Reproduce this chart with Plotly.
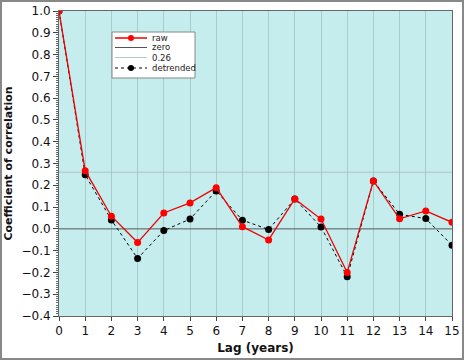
import plotly.graph_objects as go

lags = list(range(16))
raw = [1.0, 0.267, 0.058, -0.063, 0.073, 0.119, 0.189, 0.01, -0.051, 0.137, 0.045, -0.20, 0.22, 0.046, 0.082, 0.03]
detrended = [1.0, 0.248, 0.041, -0.136, -0.008, 0.045, 0.174, 0.04, -0.003, 0.137, 0.009, -0.22, 0.22, 0.067, 0.047, -0.075]
zero_level = 0.0
sig_level = 0.26
x_ticks = list(range(16))
y_ticks = [round(-0.4 + 0.1 * i, 1) for i in range(15)]

W, H = 464, 360
ML, MR, MT, MB = 59, 12, 11, 44
PW, PH = W - ML - MR, H - MT - MB


def px(x):
    return (x - ML) / PW


def py(y):
    return 1 - (y - MT) / PH


RED = "#ee0000"
fig = go.Figure()
fig.add_trace(go.Scatter(x=[0, 15], y=[zero_level, zero_level], mode="lines", name="zero",
                         line=dict(color="#555555", width=1)))
fig.add_trace(go.Scatter(x=[0, 15], y=[sig_level, sig_level], mode="lines", name="0.26",
                         line=dict(color="#a9c4c4", width=1)))
fig.add_trace(go.Scatter(x=lags, y=detrended, mode="lines+markers", name="detrended",
                         line=dict(color="#000000", width=1, dash="dot"),
                         marker=dict(color="#000000", size=7)))
fig.add_trace(go.Scatter(x=lags, y=raw, mode="lines+markers", name="raw",
                         line=dict(color=RED, width=1.3),
                         marker=dict(color="#ff0000", size=7)))

fig.update_layout(
    width=W, height=H,
    margin=dict(l=ML, r=MR, t=MT, b=MB, autoexpand=False),
    paper_bgcolor="white",
    plot_bgcolor="#c5eded",
    font=dict(family="DejaVu Sans", size=12, color="#111111"),
    showlegend=False,
    xaxis=dict(range=[0, 15], tickvals=x_ticks, showgrid=True, gridcolor="#a8cccc", gridwidth=1,
               zeroline=False, showline=True, linecolor="#666666", linewidth=1, mirror=True,
               ticks="outside", ticklen=4, tickcolor="#444444", automargin=False,
               title=dict(text="<b>Lag (years)</b>", font=dict(size=12), standoff=6)),
    yaxis=dict(range=[-0.4, 1.0], tickvals=y_ticks, tickformat=".1f", showgrid=False,
               zeroline=False, showline=True, linecolor="#666666", linewidth=1, mirror=True,
               ticks="outside", ticklen=5, tickcolor="#444444", automargin=False,
               minor=dict(dtick=0.01, tick0=0, ticks="outside", ticklen=2, tickcolor="#666666", showgrid=False),
               title=dict(text="<b>Coefficient of correlation</b>", font=dict(size=11), standoff=6)),
)

# legend box (drawn by hand to match the compact original)
fig.add_shape(type="rect", xref="paper", yref="paper", x0=px(112), x1=px(195), y0=py(78), y1=py(32),
              line=dict(color="#888888", width=1), fillcolor="white", layer="above")
legend_items = [
    ("raw", RED, 1.5, "solid", "#ff0000"),
    ("zero", "#555555", 1, "solid", None),
    ("0.26", "#b5c8c8", 1, "solid", None),
    ("detrended", "#000000", 1, "dot", "#000000"),
]
row_y = [38, 47.5, 57.5, 68]
for (label, col, w, dash, mcol), ry in zip(legend_items, row_y):
    fig.add_shape(type="line", xref="paper", yref="paper", x0=px(115), x1=px(147), y0=py(ry), y1=py(ry),
                  line=dict(color=col, width=w, dash=dash), layer="above")
    if mcol:
        fig.add_shape(type="circle", xref="paper", yref="paper", xsizemode="pixel", ysizemode="pixel",
                      xanchor=px(131), yanchor=py(ry), x0=-3, x1=3, y0=-3, y1=3,
                      line=dict(color=mcol, width=0), fillcolor=mcol, layer="above")
    fig.add_annotation(xref="paper", yref="paper", x=px(150), y=py(ry), text=label, showarrow=False,
                       xanchor="left", yanchor="middle", font=dict(size=8.5, color="#222222"))

# outer frame around figure
fig.add_shape(type="rect", xref="paper", yref="paper",
              x0=px(1), x1=px(W - 1), y0=py(H - 1), y1=py(1),
              line=dict(color="#888888", width=2), fillcolor="rgba(0,0,0,0)", layer="above")

fig.write_html("out.html", config={"displayModeBar": False},
               post_script="document.body.style.margin='0';document.body.style.padding='0';"
                           "document.documentElement.style.overflow='hidden';")
